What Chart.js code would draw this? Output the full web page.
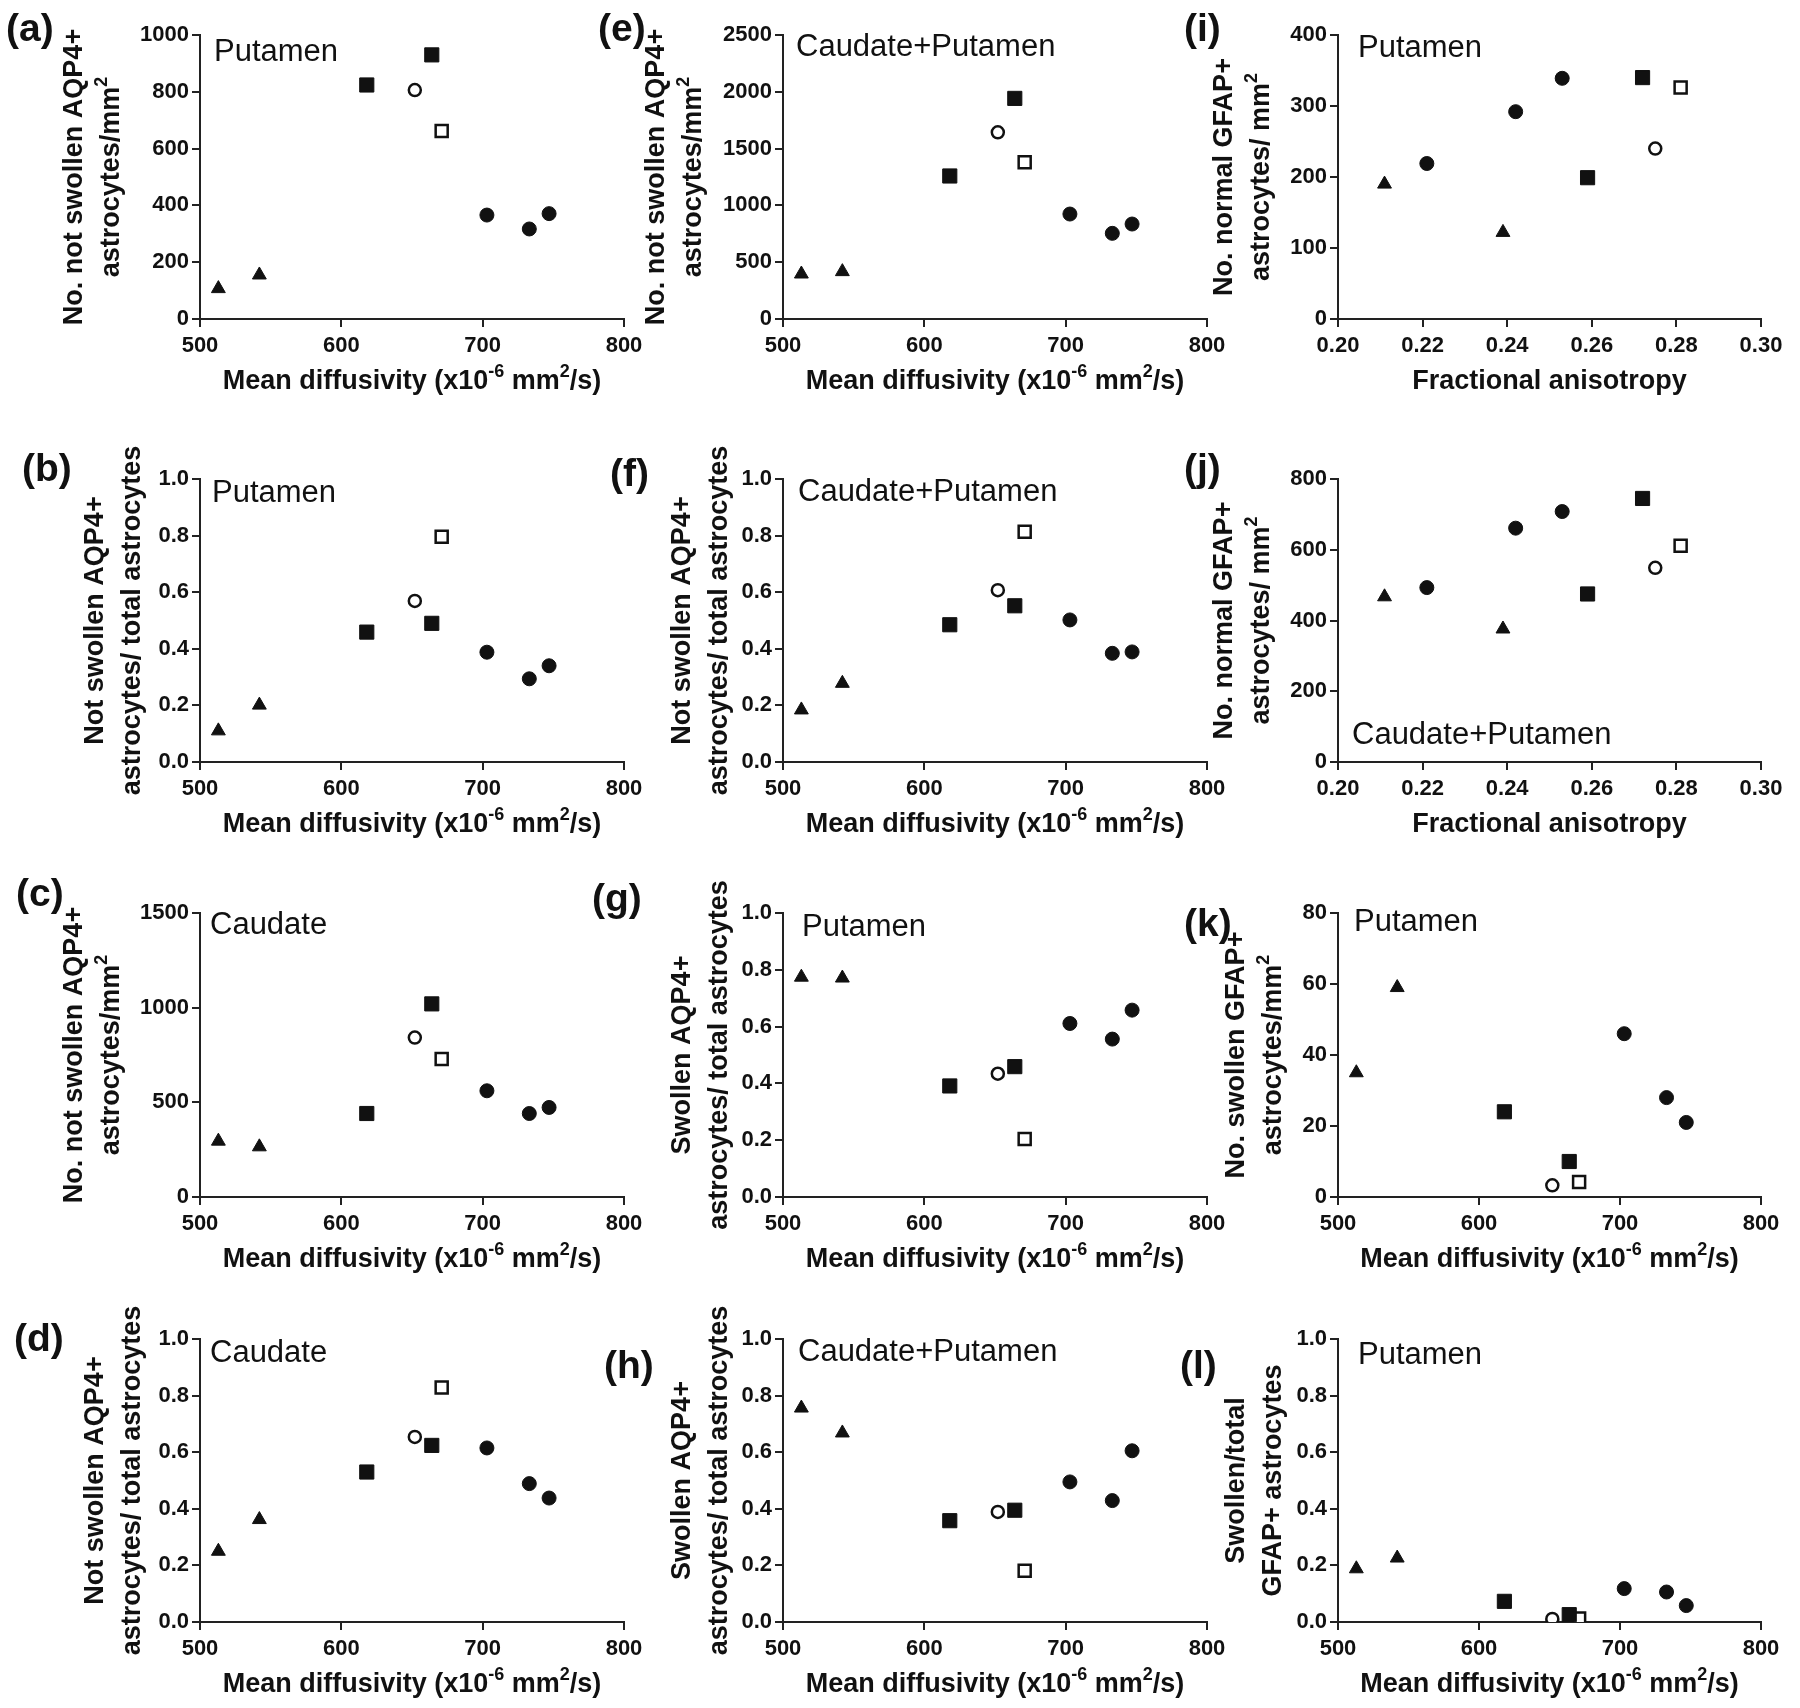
<!DOCTYPE html>
<html>
<head>
<meta charset="utf-8">
<script src="https://cdn.jsdelivr.net/npm/chart.js@4.4.1/dist/chart.umd.min.js"></script>
<style>
  html, body { margin: 0; padding: 0; background: #fff; }
  #fig { position: relative; width: 1800px; height: 1708px; overflow: hidden; background: #fff; }
  #fig canvas { position: absolute; }
</style>
</head>
<body>
<div id="fig"></div>
<script>
// ── Data ─────────────────────────────────────────────────────────────────
// one value per subject, same subject order in every panel of a kind
const mdValues = [513, 542, 618, 652, 664, 671, 703, 733, 747]
const mdGroups = ["tri", "tri", "sq", "oCirc", "sq", "oSq", "circ", "circ", "circ"]
const faValues = [0.211, 0.221, 0.239, 0.242, 0.253, 0.259, 0.272, 0.275, 0.281]
const faGroups = ["tri", "circ", "tri", "circ", "circ", "sq", "sq", "oCirc", "oSq"]

// mean diffusivity panels (order of mdValues)
const valsA = [107, 155, 824, 806, 930, 662, 366, 317, 371]
const valsB = [0.110, 0.201, 0.459, 0.569, 0.490, 0.796, 0.388, 0.294, 0.340]
const valsC = [295, 265, 441, 842, 1020, 729, 561, 441, 473]
const valsD = [0.250, 0.362, 0.530, 0.654, 0.624, 0.829, 0.615, 0.489, 0.438]
const valsE = [396, 417, 1259, 1643, 1942, 1379, 924, 754, 836]
const valsF = [0.184, 0.278, 0.485, 0.607, 0.552, 0.814, 0.502, 0.384, 0.389]
const valsG = [0.774, 0.771, 0.391, 0.434, 0.459, 0.204, 0.611, 0.556, 0.658]
const valsH = [0.756, 0.668, 0.358, 0.389, 0.395, 0.181, 0.495, 0.429, 0.605]
const valsK = [35, 59, 24, 3.3, 10, 4.2, 46, 28, 21]
const valsL = [0.188, 0.226, 0.073, 0.011, 0.026, 0.012, 0.118, 0.106, 0.058]
// fractional anisotropy panels (order of faValues)
const valsI = [190, 219, 122, 292, 339, 199, 340, 240, 326]
const valsJ = [467, 493, 376, 661, 708, 475, 745, 549, 611]

// ── Texts (^{..} = superscript) ──────────────────────────────────────────
const mdTitle = "Mean diffusivity (x10^{-6} mm^{2}/s)"
const faTitle = "Fractional anisotropy"
const tNotSwollenNo = ["No. not swollen AQP4+", "astrocytes/mm^{2}"]
const tNotSwollenFrac = ["Not swollen AQP4+", "astrocytes/ total astrocytes"]
const tSwollenFrac = ["Swollen AQP4+", "astrocytes/ total astrocytes"]
const tNormalGfap = ["No. normal GFAP+", "astrocytes/ mm^{2}"]
const tSwollenGfap = ["No. swollen GFAP+", "astrocytes/mm^{2}"]
const tSwollenGfapFrac = ["Swollen/total", "GFAP+ astrocytes"]

// ── Layout ───────────────────────────────────────────────────────────────
const colPlot = [[200, 624], [783, 1207], [1338, 1761]]
const colCanvasLeft = [0, 590, 1175]
const rowPlot = [[35, 319], [479, 762], [913, 1197], [1339, 1622]]

const FONT = "Arial, 'Liberation Sans', Helvetica, sans-serif"
const ink = "#111"
const axisInk = "#222"
const TITLE_SIZE = 27
const TITLE_LINE = 37

const panels = [
  { letter: "(a)", col: 0, row: 0, kind: "md", y: valsA, yMax: 1000, yStep: 200, yTitle: tNotSwollenNo, yTitleX: 75, lx: 6, ly: 30, region: "Putamen", rdx: 14, rdy: 17 },
  { letter: "(b)", col: 0, row: 1, kind: "md", y: valsB, yMax: 1, yStep: 0.2, yTitle: tNotSwollenFrac, yTitleX: 96, lx: 22, ly: 470, region: "Putamen", rdx: 12, rdy: 14 },
  { letter: "(c)", col: 0, row: 2, kind: "md", y: valsC, yMax: 1500, yStep: 500, yTitle: tNotSwollenNo, yTitleX: 75, lx: 16, ly: 895, region: "Caudate", rdx: 10, rdy: 12 },
  { letter: "(d)", col: 0, row: 3, kind: "md", y: valsD, yMax: 1, yStep: 0.2, yTitle: tNotSwollenFrac, yTitleX: 96, lx: 14, ly: 1340, region: "Caudate", rdx: 10, rdy: 14 },
  { letter: "(e)", col: 1, row: 0, kind: "md", y: valsE, yMax: 2500, yStep: 500, yTitle: tNotSwollenNo, yTitleX: 657, lx: 598, ly: 30, region: "Caudate+Putamen", rdx: 13, rdy: 12 },
  { letter: "(f)", col: 1, row: 1, kind: "md", y: valsF, yMax: 1, yStep: 0.2, yTitle: tNotSwollenFrac, yTitleX: 683, lx: 610, ly: 475, region: "Caudate+Putamen", rdx: 15, rdy: 13 },
  { letter: "(g)", col: 1, row: 2, kind: "md", y: valsG, yMax: 1, yStep: 0.2, yTitle: tSwollenFrac, yTitleX: 683, lx: 592, ly: 900, region: "Putamen", rdx: 19, rdy: 14 },
  { letter: "(h)", col: 1, row: 3, kind: "md", y: valsH, yMax: 1, yStep: 0.2, yTitle: tSwollenFrac, yTitleX: 683, lx: 604, ly: 1367, region: "Caudate+Putamen", rdx: 15, rdy: 13 },
  { letter: "(i)", col: 2, row: 0, kind: "fa", y: valsI, yMax: 400, yStep: 100, yTitle: tNormalGfap, yTitleX: 1225, lx: 1184, ly: 30, region: "Putamen", rdx: 20, rdy: 13 },
  { letter: "(j)", col: 2, row: 1, kind: "fa", y: valsJ, yMax: 800, yStep: 200, yTitle: tNormalGfap, yTitleX: 1225, lx: 1184, ly: 470, region: "Caudate+Putamen", rdx: 14, rdy: -27 },
  { letter: "(k)", col: 2, row: 2, kind: "md", y: valsK, yMax: 80, yStep: 20, yTitle: tSwollenGfap, yTitleX: 1237, lx: 1184, ly: 925, region: "Putamen", rdx: 16, rdy: 9 },
  { letter: "(l)", col: 2, row: 3, kind: "md", y: valsL, yMax: 1, yStep: 0.2, yTitle: tSwollenGfapFrac, yTitleX: 1237, lx: 1180, ly: 1367, region: "Putamen", rdx: 20, rdy: 16 }
]

// marker look per subject group
const markers = {
  tri:   { pointStyle: "triangle", pointRadius: 8,   backgroundColor: ink,    borderColor: ink, borderWidth: 1 },
  circ:  { pointStyle: "circle",   pointRadius: 7,   backgroundColor: ink,    borderColor: ink, borderWidth: 1 },
  sq:    { pointStyle: "rect",     pointRadius: 10,  backgroundColor: ink,    borderColor: ink, borderWidth: 1 },
  oCirc: { pointStyle: "circle",   pointRadius: 6,   backgroundColor: "#fff", borderColor: ink, borderWidth: 2.5 },
  oSq:   { pointStyle: "rect",     pointRadius: 8.5, backgroundColor: "#fff", borderColor: ink, borderWidth: 2.5 }
}

function buildDatasets(xs, groups, ys) {
  return ["tri", "circ", "sq", "oCirc", "oSq"].map(g => {
    const pts = []
    xs.forEach((x, i) => { if (groups[i] === g) pts.push({ x, y: ys[i] }) })
    const m = markers[g]
    return { data: pts, showLine: false, ...m, pointHoverRadius: m.pointRadius }
  })
}

// bold text with ^{..} superscripts, centred on (x, y)
function drawRich(ctx, text, x, y, rotation) {
  const parts = text.split(/\^\{([^}]*)\}/)
  const big = "bold " + TITLE_SIZE + "px " + FONT
  const small = "bold " + Math.round(TITLE_SIZE * 0.68) + "px " + FONT
  let total = 0
  parts.forEach((t, i) => {
    ctx.font = i % 2 ? small : big
    total += ctx.measureText(t).width
  })
  ctx.save()
  ctx.translate(x, y)
  ctx.rotate(rotation)
  ctx.textAlign = "left"
  ctx.textBaseline = "middle"
  let cx = -total / 2
  parts.forEach((t, i) => {
    ctx.font = i % 2 ? small : big
    ctx.fillText(t, cx, i % 2 ? -TITLE_SIZE * 0.36 : 0)
    cx += ctx.measureText(t).width
  })
  ctx.restore()
}

// panel letter, region label and axis titles
const panelText = {
  id: "panelText",
  afterDraw(chart, args, opts) {
    const { ctx, chartArea } = chart
    ctx.save()
    ctx.fillStyle = ink
    ctx.textBaseline = "middle"
    ctx.textAlign = "left"
    ctx.font = "bold 39px " + FONT
    ctx.fillText(opts.letter, opts.letterX, opts.letterY)
    ctx.font = "31px " + FONT
    const y = opts.rdy < 0 ? chartArea.bottom + opts.rdy : chartArea.top + opts.rdy
    ctx.fillText(opts.region, chartArea.left + opts.rdx, y)

    drawRich(ctx, opts.xTitle, (chartArea.left + chartArea.right) / 2, chartArea.bottom + 63, 0)
    const midY = (chartArea.top + chartArea.bottom) / 2
    opts.yTitle.forEach((line, i) => {
      drawRich(ctx, line, opts.yTitleX + i * TITLE_LINE, midY, -Math.PI / 2)
    })
    ctx.restore()
  }
}

Chart.defaults.font.family = FONT
Chart.defaults.color = ink

const fig = document.getElementById("fig")

panels.forEach(p => {
  const [pl, pr] = colPlot[p.col]
  const [pt, pb] = rowPlot[p.row]
  const left = colCanvasLeft[p.col]
  const top = Math.max(0, pt - 45)
  const width = pr + 40 - left
  const height = pb + 100 - top

  const canvas = document.createElement("canvas")
  canvas.width = width
  canvas.height = height
  canvas.style.left = left + "px"
  canvas.style.top = top + "px"
  canvas.style.width = width + "px"
  canvas.style.height = height + "px"
  fig.appendChild(canvas)

  const isFA = p.kind === "fa"
  const xs = isFA ? faValues : mdValues
  const groups = isFA ? faGroups : mdGroups
  const fracY = p.yStep < 1

  const tickFont = { size: 22, weight: "bold" }
  const axisGrid = { display: true, drawOnChartArea: false, drawTicks: true, tickLength: 8, color: axisInk, lineWidth: 2 }
  const axisBorder = { display: true, color: axisInk, width: 2 }

  new Chart(canvas, {
    type: "scatter",
    data: { datasets: buildDatasets(xs, groups, p.y) },
    options: {
      responsive: false,
      animation: false,
      devicePixelRatio: 1,
      layout: { padding: { top: pt - top, right: 40, bottom: 0, left: 0 } },
      plugins: {
        legend: { display: false },
        tooltip: { enabled: false },
        panelText: {
          letter: p.letter, letterX: p.lx - left, letterY: p.ly - top,
          region: p.region, rdx: p.rdx, rdy: p.rdy,
          xTitle: isFA ? faTitle : mdTitle,
          yTitle: p.yTitle, yTitleX: p.yTitleX - left
        }
      },
      scales: {
        x: {
          type: "linear",
          min: isFA ? 0.2 : 500,
          max: isFA ? 0.3 : 800,
          grid: axisGrid,
          border: axisBorder,
          ticks: {
            stepSize: isFA ? 0.02 : 100,
            font: tickFont,
            color: ink,
            padding: 6,
            maxRotation: 0,
            callback: v => isFA ? v.toFixed(2) : String(Math.round(v))
          },
          afterFit: s => { s.height = 100 }
        },
        y: {
          type: "linear",
          min: 0,
          max: p.yMax,
          grid: axisGrid,
          border: axisBorder,
          ticks: {
            stepSize: p.yStep,
            font: tickFont,
            color: ink,
            padding: 3,
            callback: v => fracY ? v.toFixed(1) : String(Math.round(v))
          },
          afterFit: s => { s.width = pl - left }
        }
      }
    },
    plugins: [panelText]
  })
})
</script>
</body>
</html>
